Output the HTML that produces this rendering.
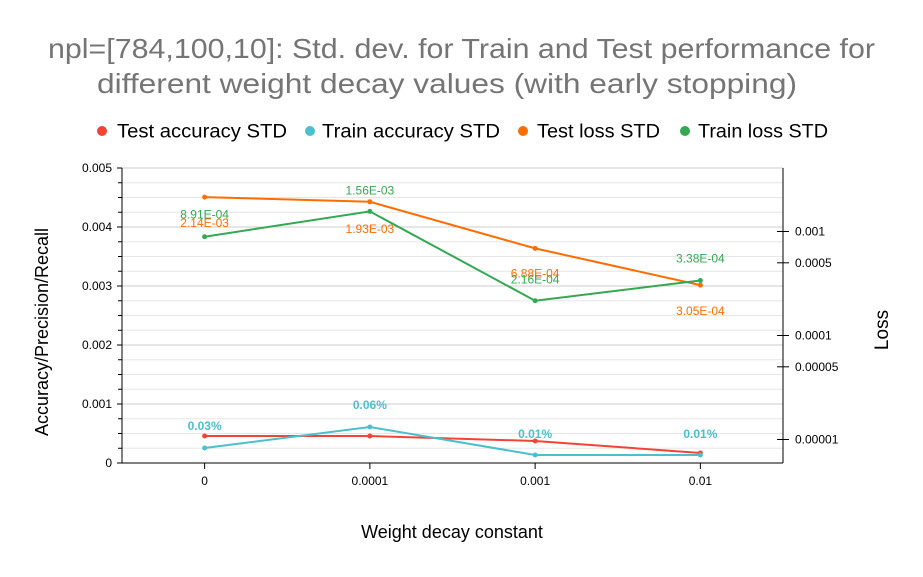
<!DOCTYPE html>
<html><head><meta charset="utf-8"><style>
body{margin:0;background:#fff;font-family:"Liberation Sans",sans-serif}
svg text{font-family:"Liberation Sans",sans-serif}
</style></head><body>
<svg id="chart" width="923" height="572" viewBox="0 0 923 572">
<g id="grid"></g>
<g>
<text x="48" y="58" font-size="28" fill="#757575" textLength="827" lengthAdjust="spacingAndGlyphs">npl=[784,100,10]: Std. dev. for Train and Test performance for</text>
<text x="97" y="93" font-size="28" fill="#757575" textLength="700" lengthAdjust="spacingAndGlyphs">different weight decay values (with early stopping)</text>
</g>
<g>
<g><circle cx="102" cy="131" r="5" fill="#f44336"/><text x="117" y="137.5" font-size="19" textLength="170" lengthAdjust="spacingAndGlyphs">Test accuracy STD</text></g>
<g><circle cx="310" cy="131" r="5" fill="#4bbfcb"/><text x="322" y="137.5" font-size="19" textLength="178" lengthAdjust="spacingAndGlyphs">Train accuracy STD</text></g>
<g><circle cx="523" cy="131" r="5" fill="#ff6d01"/><text x="537" y="137.5" font-size="19" textLength="123" lengthAdjust="spacingAndGlyphs">Test loss STD</text></g>
<g><circle cx="685" cy="131" r="5" fill="#34a853"/><text x="698" y="137.5" font-size="19" textLength="130" lengthAdjust="spacingAndGlyphs">Train loss STD</text></g>
</g>
<text transform="translate(48,332) rotate(-90)" text-anchor="middle" font-size="18">Accuracy/Precision/Recall</text>
<text transform="translate(888,330) rotate(-90)" text-anchor="middle" font-size="19">Loss</text>
<text x="452" y="538" text-anchor="middle" font-size="18">Weight decay constant</text>
<g id="series"></g>
</svg>
<script>
const categories=["0","0.0001","0.001","0.01"];
const testAcc=[0.000458,0.000458,0.000373,0.00017];
const trainAcc=[0.000254,0.00061,0.000136,0.000136];
const trainAccLabels=["0.03%","0.06%","0.01%","0.01%"];
const testLoss=[0.00214,0.00193,0.000688,0.000305];
const trainLoss=[0.000891,0.00156,0.000216,0.000338];
const leftTicks=[0,0.001,0.002,0.003,0.004,0.005];
const leftTickLabels=["0","0.001","0.002","0.003","0.004","0.005"];
const rightTicks=[0.001,0.0005,0.0001,0.00005,0.00001];
const rightTickLabels=["0.001","0.0005","0.0001","0.00005","0.00001"];

const NS="http://www.w3.org/2000/svg";
const L=122,R=783,T=168,B=463;
const band=(R-L)/categories.length;
const xS=i=>L+band*(i+0.5);
const yL=v=>B-(v/0.005)*(B-T);
const yR=v=>231.5-(Math.log10(v)+3)*104;
function mk(tag,attrs,parent){const e=document.createElementNS(NS,tag);for(const k in attrs)e.setAttribute(k,attrs[k]);parent.appendChild(e);return e;}
const grid=document.getElementById('grid'),ser=document.getElementById('series');
for(let k=0;k<=20;k++){const v=k*0.00025,y=yL(v);
 const major=k%4===0;
 const g=mk('line',{x1:L,x2:R,y1:y,y2:y,stroke:major?'#cccccc':'#e6e6e6','stroke-width':1},grid);
 
 
 const t=mk('line',{x1:L-(major?5:4),x2:L,y1:y,y2:y,stroke:'#000'},grid);
 
 }
leftTicks.forEach((v,i)=>{const t=mk('text',{x:L-10,y:yL(v)+4,'text-anchor':'end','font-size':12},grid);t.textContent=leftTickLabels[i];
 
 });
rightTicks.forEach((v,i)=>{const y=yR(v);mk('line',{x1:R-6,x2:R+6,y1:y,y2:y,stroke:'#000'},grid);
 const t=mk('text',{x:R+12,y:y+4,'font-size':12},grid);t.textContent=rightTickLabels[i];
 
 });
mk('line',{x1:L,x2:L,y1:T,y2:B,stroke:'#000'},grid);
mk('line',{x1:R,x2:R,y1:T,y2:B,stroke:'#000'},grid);
mk('line',{x1:L,x2:R,y1:B,y2:B,stroke:'#000'},grid);
categories.forEach((c,i)=>{const x=xS(i);mk('line',{x1:x,x2:x,y1:B,y2:B+6,stroke:'#000'},grid);
 const t=mk('text',{x:x,y:B+22,'text-anchor':'middle','font-size':12},grid);t.textContent=c;
 
 });
function series(name,vals,yf,color,labels,offs,bold){
 const g=mk('g',{},ser);
 
 
 mk('polyline',{points:vals.map((v,i)=>xS(i)+','+yf(v)).join(' '),fill:'none',stroke:color,'stroke-width':2},g);
 vals.forEach((v,i)=>{const c=mk('circle',{cx:xS(i),cy:yf(v),r:2.5,fill:color},g);
  
  
  if(labels){const t=mk('text',{x:xS(i),y:yf(v)+offs[i],'text-anchor':'middle','font-size':12,fill:color,'font-weight':bold?'bold':'normal'},g);t.textContent=labels[i];
  
  }});
}
const fmt=v=>{let e=Math.floor(Math.log10(v));let m=v/Math.pow(10,e);return m.toFixed(2)+'E-'+String(-e).padStart(2,'0');};
series('test-accuracy-line',testAcc,yL,'#f44336');
series('train-accuracy-line',trainAcc,yL,'#4bbfcb',trainAccLabels,[-18,-18,-17,-17],true);
series('test-loss-line',testLoss,yR,'#ff6d01',testLoss.map(fmt),[30,31,29,30]);
series('train-loss-line',trainLoss,yR,'#34a853',trainLoss.map(fmt),[-18,-17,-17,-18]);
</script>
</body></html>
